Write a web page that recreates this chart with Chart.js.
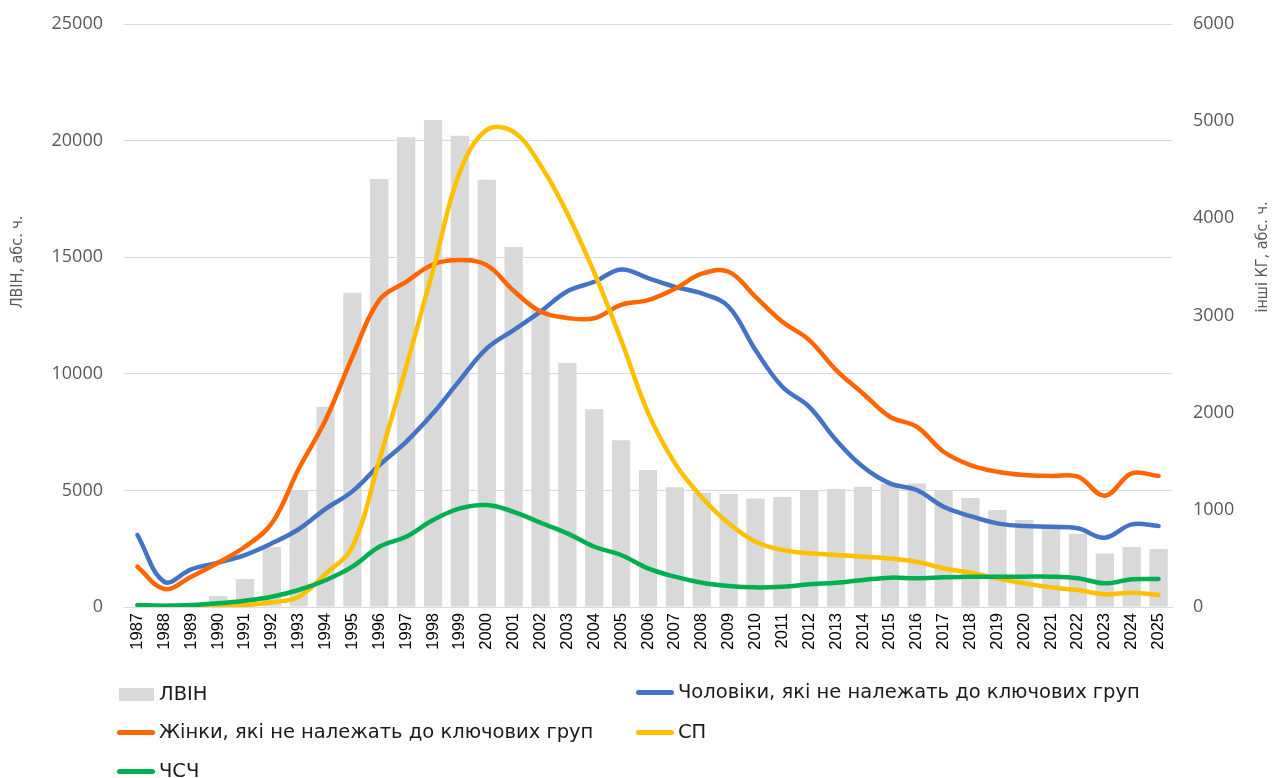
<!DOCTYPE html>
<html>
<head>
<meta charset="utf-8">
<script src="https://cdn.jsdelivr.net/npm/chart.js@4/dist/chart.umd.min.js"></script>
<style>
  html, body { margin: 0; padding: 0; background: #fff; }
  #wrap { position: relative; width: 1272px; height: 778px; overflow: hidden; }
  canvas { position: absolute; left: 0; top: 0; }
  .leg { position: absolute; font-family: "DejaVu Sans", sans-serif; font-size: 19.5px; color: #1a1a1a; white-space: nowrap; line-height: 20px; }
  .sw { position: absolute; }
</style>
</head>
<body>
<div id="wrap">
  <canvas id="c" width="1272" height="778"></canvas>
</div>
<script>
const years = ['1987','1988','1989','1990','1991','1992','1993','1994','1995','1996','1997','1998','1999','2000','2001','2002','2003','2004','2005','2006','2007','2008','2009','2010','2011','2012','2013','2014','2015','2016','2017','2018','2019','2020','2021','2022','2023','2024','2025'];

// ЛВІН (left axis)
const lvin = [0,0,0,470,1200,2570,5020,8590,13480,18350,20140,20880,20210,18320,15440,12740,10460,8480,7150,5870,5130,4900,4850,4650,4720,4990,5060,5160,5290,5300,5020,4670,4160,3730,3440,3130,2290,2570,2490];

// right axis series
const men = [741,260,388,456,535,655,800,1010,1190,1460,1700,1993,2335,2661,2850,3040,3250,3347,3474,3385,3295,3227,3090,2644,2266,2060,1718,1443,1272,1204,1032,936,861,833,826,810,713,850,833];
const women = [415,185,312,456,620,861,1420,1925,2575,3160,3347,3525,3570,3518,3255,3040,2975,2972,3110,3158,3275,3430,3450,3192,2935,2747,2438,2198,1958,1855,1598,1461,1392,1358,1348,1341,1145,1375,1348];
const sp = [10,10,10,5,21,48,106,340,620,1512,2472,3467,4478,4910,4890,4547,4050,3440,2747,2000,1480,1130,861,672,586,552,535,518,500,466,398,353,295,244,202,175,130,147,123];
const csc = [21,14,20,38,65,106,175,275,415,620,723,895,1015,1049,980,867,758,620,535,398,312,250,216,202,209,233,250,278,302,295,305,312,312,312,312,295,244,285,288];

const leftTicks = [0,5000,10000,15000,20000,25000];
const rightTicks = [0,1000,2000,3000,4000,5000,6000];

const labels = {
  lvin: 'ЛВІН',
  men: 'Чоловіки, які не належать до ключових груп',
  women: 'Жінки, які не належать до ключових груп',
  sp: 'СП',
  csc: 'ЧСЧ',
  yLeft: 'ЛВІН, абс. ч.',
  yRight: 'інші КГ, абс. ч.'
};

const colors = { lvin: '#d9d9d9', men: '#4472c4', women: '#ff6600', sp: '#ffc000', csc: '#00b050' };

const titlePlugin = {
  id: 'axisTitles',
  afterDraw(chart) {
    const ctx = chart.ctx;
    const draw = (text, x, y) => {
      ctx.save();
      ctx.fillStyle = '#595959';
      ctx.font = '16px "DejaVu Sans Condensed", "DejaVu Sans", sans-serif';
      ctx.textAlign = 'center';
      ctx.textBaseline = 'middle';
      ctx.translate(x, y);
      ctx.rotate(-Math.PI / 2);
      ctx.fillText(text, 0, 0);
      ctx.restore();
    };
    draw(labels.yLeft, 18, 262);
    draw(labels.yRight, 1263, 257);
  }
};

const lineDs = (label, data, color, order) => ({
  type: 'line', label, data, yAxisID: 'y1', borderColor: color, backgroundColor: color,
  borderWidth: 4.5, pointRadius: 0, tension: 0.38, fill: false, order,
  borderCapStyle: 'round', borderJoinStyle: 'round'
});

function fixY(width) {
  return function (s) { s.width = width; s.paddingTop = 0; s.paddingBottom = 0; };
}

new Chart(document.getElementById('c'), {
  type: 'bar',
  data: {
    labels: years,
    datasets: [
      { type: 'bar', label: labels.lvin, data: lvin, yAxisID: 'y', backgroundColor: colors.lvin,
        barPercentage: 0.68, categoryPercentage: 1.0, order: 10 },
      lineDs(labels.men, men, colors.men, 4),
      lineDs(labels.women, women, colors.women, 3),
      lineDs(labels.sp, sp, colors.sp, 2),
      lineDs(labels.csc, csc, colors.csc, 1)
    ]
  },
  options: {
    responsive: false,
    animation: false,
    layout: { padding: { top: 24, bottom: 111, left: 0, right: 0 } },
    plugins: { legend: { display: false }, tooltip: { enabled: false } },
    scales: {
      x: {
        offset: true,
        grid: { display: false, drawTicks: false },
        border: { display: true, color: '#d9d9d9', width: 1 },
        ticks: { autoSkip: false, minRotation: 90, maxRotation: 90, padding: 6,
          color: '#000', font: { family: '"Liberation Sans", Arial, sans-serif', size: 16.5 } },
        afterFit(s) { s.height = 60; s.paddingLeft = 0; s.paddingRight = 0; }
      },
      y: {
        position: 'left', min: 0, max: 25000,
        afterBuildTicks(s) { s.ticks = leftTicks.map(v => ({ value: v })); },
        grid: { color: '#d9d9d9', lineWidth: 1, drawTicks: false },
        border: { display: false },
        ticks: { padding: 21, color: '#595959', font: { family: '"Open Sans", sans-serif', size: 18 },
          callback: v => String(v) },
        afterFit: fixY(124)
      },
      y1: {
        position: 'right', min: 0, max: 6000,
        afterBuildTicks(s) { s.ticks = rightTicks.map(v => ({ value: v })); },
        grid: { display: false, drawTicks: false },
        border: { display: false },
        ticks: { padding: 21, color: '#595959', font: { family: '"Open Sans", sans-serif', size: 18 },
          callback: v => String(v) },
        afterFit: fixY(100)
      }
    }
  },
  plugins: [titlePlugin]
});

// HTML legend
const wrap = document.getElementById('wrap');
function addItem(kind, color, x, yc, text) {
  const sw = document.createElement('div');
  sw.className = 'sw';
  if (kind === 'box') {
    Object.assign(sw.style, { left: x + 'px', top: (yc - 6) + 'px', width: '35px', height: '13px', background: color });
  } else {
    Object.assign(sw.style, { left: x + 'px', top: (yc - 2.5) + 'px', width: '38px', height: '5px', background: color, borderRadius: '2.5px' });
  }
  wrap.appendChild(sw);
  const t = document.createElement('div');
  t.className = 'leg';
  t.textContent = text;
  Object.assign(t.style, { left: (x + (kind === 'box' ? 40 : 42)) + 'px', top: (yc - 10) + 'px' });
  wrap.appendChild(t);
}
addItem('box', colors.lvin, 119, 694, labels.lvin);
addItem('line', colors.men, 636, 692, labels.men);
addItem('line', colors.women, 117, 732, labels.women);
addItem('line', colors.sp, 636, 732, labels.sp);
addItem('line', colors.csc, 117, 771, labels.csc);
</script>
</body>
</html>
